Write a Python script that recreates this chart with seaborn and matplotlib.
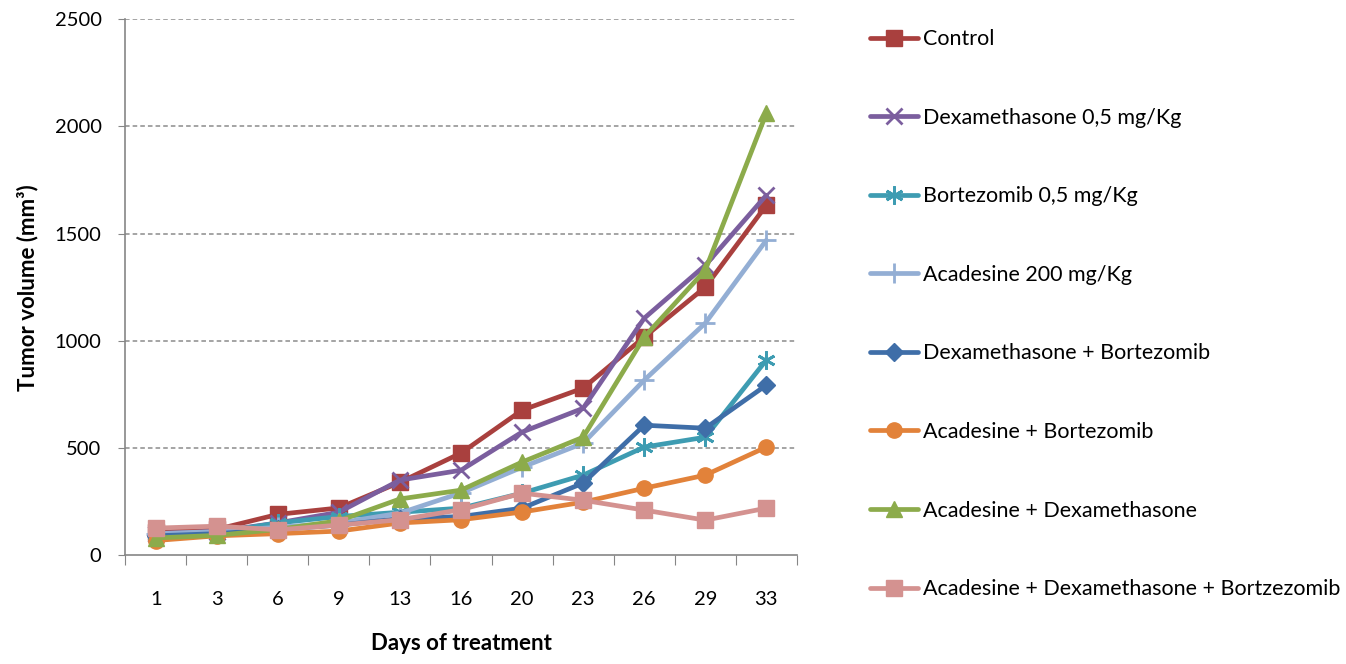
import matplotlib
matplotlib.use("Agg")
import matplotlib.pyplot as plt
import seaborn as sns
import numpy as np
import pandas as pd
from matplotlib.lines import Line2D

days = ["1", "3", "6", "9", "13", "16", "20", "23", "26", "29", "33"]

control = [110, 120, 190, 220, 340, 476, 676, 779, 1017, 1250, 1632]
dexa = [100, 110, 150, 200, 350, 396, 574, 685, 1105, 1352, 1679]
bortez = [95, 105, 150, 180, 200, 219, 289, 373, 504, 550, 910]
acadesine = [100, 110, 130, 150, 196, 290, 410, 522, 816, 1082, 1469]
dexa_bort = [90, 100, 120, 140, 170, 180, 219, 336, 606, 592, 793]
aca_bort = [68, 90, 100, 112, 150, 165, 201, 247, 312, 373, 504]
aca_dexa = [80, 92, 120, 160, 262, 303, 434, 550, 1017, 1329, 2061]
triple = [126, 135, 118, 140, 165, 212, 289, 256, 210, 163, 219]

series_names = ["Control", "Dexamethasone 0,5 mg/Kg", "Bortezomib 0,5 mg/Kg",
                "Acadesine 200 mg/Kg", "Dexamethasone + Bortezomib",
                "Acadesine + Bortezomib", "Acadesine + Dexamethasone",
                "Acadesine + Dexamethasone + Bortzezomib"]
series_vals = [control, dexa, bortez, acadesine, dexa_bort, aca_bort, aca_dexa, triple]

colors = ["#A9403E", "#7B5E9E", "#3E9CB2", "#93AED4", "#3F6EA8", "#E2823A", "#8CAB4B", "#D49290"]
markers = ["s", "x", (6, 2, 0), "+", "D", "o", "^", "s"]
msizes = [11, 12, 13, 14, 9, 11, 11, 11]

sns.set_style("white")
plt.rcParams['font.family'] = ['Lato', 'DejaVu Sans']
plt.rcParams['text.color'] = 'black'
plt.rcParams['axes.labelcolor'] = 'black'
plt.rcParams['xtick.color'] = 'black'
plt.rcParams['ytick.color'] = 'black'

fig = plt.figure(figsize=(13.46, 6.64), dpi=100)
ax = fig.add_axes([0.093, 0.164, 0.499, 0.807])

pos = np.arange(len(days))
handles = []
for name, vals, c, m, ms in zip(series_names, series_vals, colors, markers, msizes):
    df = pd.DataFrame({"x": pos, "y": vals})
    mew = 2 if m in ("x", "+", (6, 2, 0)) else 1
    sns.lineplot(data=df, x="x", y="y", ax=ax, color=c, linewidth=3.4,
                 marker=m, markersize=ms, markeredgecolor=c, markeredgewidth=mew,
                 legend=False)
    handles.append(Line2D([0], [0], color=c, linewidth=3.4, marker=m, markersize=ms,
                          markeredgecolor=c, markeredgewidth=mew))

ax.set_xlim(-0.5, len(days) - 0.5)
ax.set_ylim(0, 2500)
ax.set_yticks([0, 500, 1000, 1500, 2000, 2500])
ax.set_xticks(np.arange(-0.5, len(days), 1.0))
ax.set_xticklabels([])
ax.set_xticks(pos, minor=True)
ax.set_xticklabels(days, minor=True)
ax.tick_params(axis='x', which='major', length=7, color='#868686', direction='out', bottom=True)
ax.tick_params(axis='x', which='minor', length=0, pad=26, labelsize=14.5, labelcolor='black')
ax.tick_params(axis='y', length=5, color='#868686', direction='out', left=True, labelsize=14.5,
               pad=12, labelcolor='black')

for v in [500, 1000, 1500, 2000, 2500]:
    ax.axhline(v, color='#8c8c8c', linestyle=(0, (3, 2)), linewidth=1.1, zorder=0)

for s in ['top', 'right']:
    ax.spines[s].set_visible(False)
for s in ['left', 'bottom']:
    ax.spines[s].set_color('#868686')
    ax.spines[s].set_linewidth(1.2)

ax.set_xlabel("Days of treatment", fontsize=16, fontweight='bold', labelpad=18, color='black')
ax.set_ylabel("Tumor volume (mm³)", fontsize=16, fontweight='bold', labelpad=12, color='black')

leg = fig.legend(handles, series_names, loc='upper left', bbox_to_anchor=(0.646, 0.956),
                 frameon=False, fontsize=15.5, handlelength=2.25, labelspacing=2.72,
                 handletextpad=0.25, borderaxespad=0, borderpad=0)
for t in leg.get_texts():
    t.set_color('black')

fig.savefig("out.png", dpi=100)
